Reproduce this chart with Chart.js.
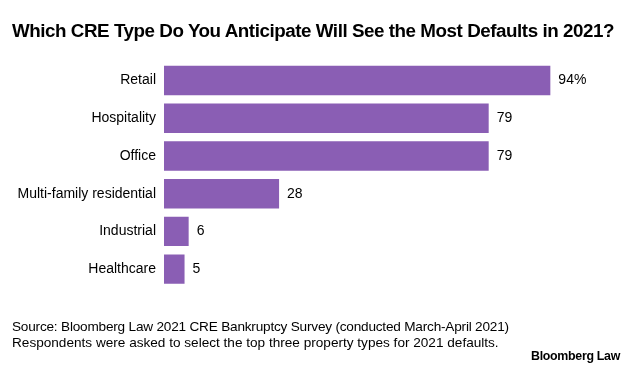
<!DOCTYPE html>
<html>
<head>
<meta charset="utf-8">
<script src="https://cdn.jsdelivr.net/npm/chart.js@4"></script>
<style>
  body { margin: 0; background: #fff; }
  #wrap { position: relative; width: 633px; height: 373px; overflow: hidden; font-family: "Liberation Sans", Arial, sans-serif; color: #000; }
  #chart { position: absolute; left: 0; top: 0; }
  .title { position: absolute; left: 12px; top: 20px; font-size: 18.8px; font-weight: bold; letter-spacing: -0.45px; white-space: nowrap; }
  .source { position: absolute; left: 12px; top: 319px; font-size: 13.6px; line-height: 16px; letter-spacing: -0.2px; white-space: nowrap; }
  .source span { letter-spacing: 0px; }
  .logo { position: absolute; left: 531px; top: 349px; font-size: 12.4px; font-weight: bold; letter-spacing: -0.3px; }
</style>
</head>
<body>
<div id="wrap">
  <canvas id="chart" width="633" height="373"></canvas>
  <div class="title">Which CRE Type Do You Anticipate Will See the Most Defaults in 2021?</div>
  <div class="source">Source: Bloomberg Law 2021 CRE Bankruptcy Survey (conducted March-April 2021)<br><span>Respondents were asked to select the top three property types for 2021 defaults.</span></div>
  <div class="logo">Bloomberg Law</div>
</div>
<script>
const categories = ["Retail", "Hospitality", "Office", "Multi-family residential", "Industrial", "Healthcare"];
const shares = [94, 79, 79, 28, 6, 5];
const valueLabels = ["94%", "79", "79", "28", "6", "5"];

const barLabels = {
  id: "barLabels",
  afterDatasetsDraw(chart) {
    const ctx = chart.ctx;
    const meta = chart.getDatasetMeta(0);
    ctx.save();
    ctx.font = "14px 'Liberation Sans', Arial, sans-serif";
    ctx.fillStyle = "#000";
    ctx.textAlign = "left";
    ctx.textBaseline = "middle";
    meta.data.forEach((bar, i) => {
      ctx.fillText(valueLabels[i], bar.x + 8, bar.y);
    });
    ctx.restore();
  }
};

const chartCtx = document.getElementById("chart").getContext("2d");
let chart = new Chart(chartCtx, {
  type: "bar",
  data: {
    labels: categories,
    datasets: [{
      data: shares,
      backgroundColor: "#8a5eb4",
      categoryPercentage: 1,
      barPercentage: 0.78,
    }]
  },
  options: {
    indexAxis: "y",
    responsive: false,
    animation: false,
    layout: { padding: { top: 61.6, bottom: 85, left: 0, right: 58 } },
    plugins: { legend: { display: false }, tooltip: { enabled: false } },
    scales: {
      x: {
        min: 0,
        max: 100,
        display: false,
      },
      y: {
        grid: { display: false, drawTicks: false },
        border: { display: false },
        ticks: {
          color: "#000",
          padding: 8,
          font: { family: "'Liberation Sans', Arial, sans-serif", size: 14 },
        },
        afterFit(scale) { scale.width = 164; }
      }
    }
  },
  plugins: [barLabels]
});
</script>
</body>
</html>
